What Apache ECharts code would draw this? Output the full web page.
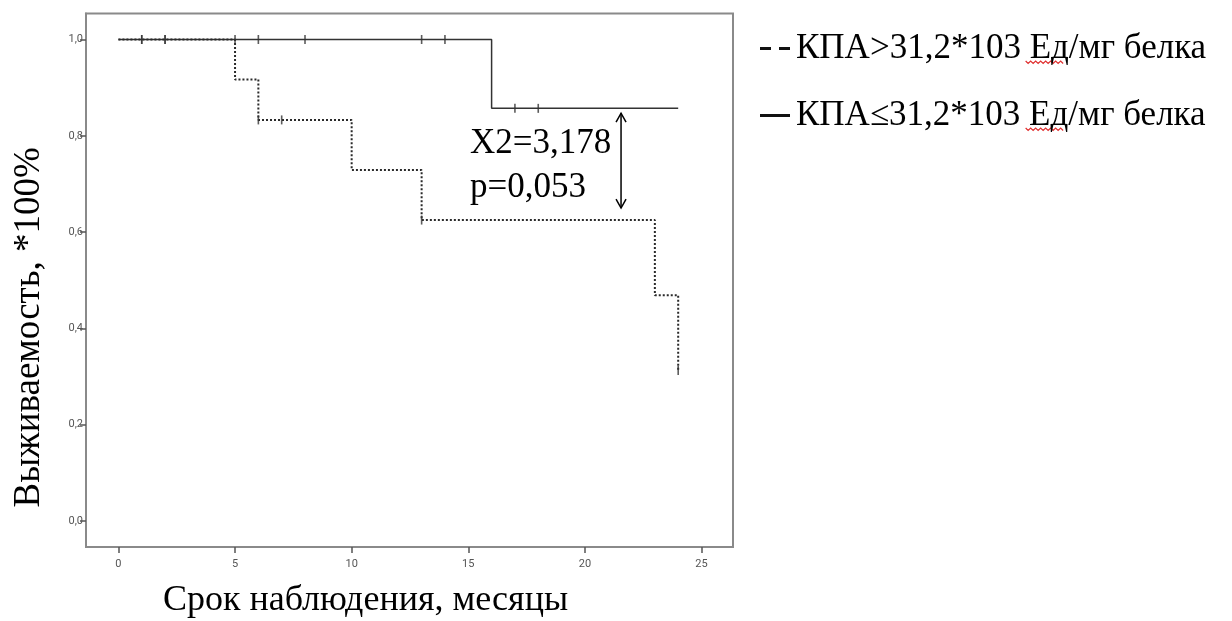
<!DOCTYPE html>
<html>
<head>
<meta charset="utf-8">
<script src="https://cdn.jsdelivr.net/npm/echarts@6/dist/echarts.min.js"></script>
<style>html,body{margin:0;padding:0;background:#fff}#c{width:1232px;height:621px}</style>
</head>
<body>
<div id="c"></div>
<script>
// Series names
var nameHigh = 'КПА>31,2*103 Ед/мг белка';
var nameLow = 'КПА≤31,2*103 Ед/мг белка';
// Kaplan-Meier steps: [month, survival]
var highTimes = [0, 5, 6, 10, 13, 23, 24];
var highSurv = [1.0, 0.917, 0.833, 0.729, 0.625, 0.469, 0.3125];
var lowTimes = [0, 16, 24];
var lowSurv = [1.0, 0.857, 0.857];
// Censored observations
var highCensorTimes = [1, 2, 6, 7, 13, 24];
var highCensorSurv = [1.0, 1.0, 0.833, 0.833, 0.625, 0.3125];
var lowCensorTimes = [1, 2, 5, 6, 8, 13, 14, 17, 18];
var lowCensorSurv = [1.0, 1.0, 1.0, 1.0, 1.0, 1.0, 1.0, 0.857, 0.857];
// Ticks
var xTicks = [0, 5, 10, 15, 20, 25];
var yTicks = [0, 0.2, 0.4, 0.6, 0.8, 1.0];
// Annotation
var statLines = ['X2=3,178', 'p=0,053'];
var arrowX = 21.55, arrowTop = 0.847, arrowBottom = 0.650;

function zip(a, b) { return a.map(function (v, i) { return [v, b[i]]; }); }

var chart = echarts.init(document.getElementById('c'), null, {renderer: 'canvas'});
var serif = '"Liberation Serif", "DejaVu Serif", serif';
var frameColor = '#8a8a8a';
var legendFont = 35, legendLeft = 755, legendIconW = 32, legendTop = 26;
var option = {
  animation: false,
  backgroundColor: '#fff',
  grid: {left: 86, top: 13.5, right: 499, bottom: 74, show: true, borderColor: frameColor, borderWidth: 2,
    outerBoundsMode: 'none', containLabel: false},
  xAxis: {
    type: 'value', min: -1.39, max: 26.35,
    splitLine: {show: false},
    axisLine: {show: true, onZero: false, lineStyle: {color: frameColor, width: 2}},
    axisTick: {show: true, length: 6, customValues: xTicks, lineStyle: {color: '#555', width: 1.5}},
    axisLabel: {customValues: xTicks, color: '#555', fontSize: 11, fontFamily: 'Roboto, sans-serif', margin: 12},
    name: 'Срок наблюдения, месяцы', nameLocation: 'middle', nameGap: 36,
    nameTextStyle: {fontFamily: serif, fontSize: 36, color: '#000', padding: [0, 88, 0, 0]}
  },
  yAxis: {
    type: 'value', min: -0.054, max: 1.054,
    splitLine: {show: false},
    axisLine: {show: true, onZero: false, lineStyle: {color: frameColor, width: 2}},
    axisTick: {show: true, length: 6, customValues: yTicks, lineStyle: {color: '#555', width: 1.5}},
    axisLabel: {customValues: yTicks, color: '#555', fontSize: 11, fontFamily: 'Roboto, sans-serif', margin: 3,
      formatter: function (v) { return v.toFixed(1).replace('.', ','); }},
    name: 'Выживаемость, *100%', nameLocation: 'middle', nameGap: 38,
    nameTextStyle: {fontFamily: serif, fontSize: 37, color: '#000', padding: [0, 94, 0, 0]}
  },
  legend: {
    orient: 'vertical', left: legendLeft, top: legendTop, itemGap: 32, itemWidth: legendIconW, itemHeight: 3,
    textStyle: {fontFamily: serif, fontSize: legendFont, color: '#000', lineHeight: 35},
    data: [
      {name: nameHigh, icon: 'path://M0,0h11v3h-11z M19,0h11v3h-11z', itemStyle: {color: '#111'}},
      {name: nameLow, icon: 'path://M0,0h30v3h-30z', itemStyle: {color: '#111'}}
    ]
  },
  series: [
    {name: nameHigh, type: 'line', step: 'end', symbol: 'none', data: zip(highTimes, highSurv),
      lineStyle: {color: '#2a2a2a', width: 2, type: [2, 2]}, z: 3},
    {name: nameLow, type: 'line', step: 'end', symbol: 'none', data: zip(lowTimes, lowSurv),
      lineStyle: {color: '#333', width: 1.5, type: 'solid'}, z: 2},
    {name: 'cens1', type: 'scatter', symbol: 'rect', symbolSize: [1.6, 9], data: zip(highCensorTimes, highCensorSurv),
      itemStyle: {color: '#333'}, z: 4},
    {name: 'cens2', type: 'scatter', symbol: 'rect', symbolSize: [1.6, 9], data: zip(lowCensorTimes, lowCensorSurv),
      itemStyle: {color: '#333'}, z: 4}
  ]
};
chart.setOption(option);

function px(x, y) { return chart.convertToPixel({gridIndex: 0}, [x, y]); }
var t1 = px(15.07, 0.784), t2 = px(15.07, 0.693);
var aT = px(arrowX, arrowTop), aB = px(arrowX, arrowBottom);

// spell-check style wavy underline under "Ед" in legend texts
var cv = document.createElement('canvas').getContext('2d');
cv.font = legendFont + 'px ' + serif;
var textX = legendLeft + legendIconW + 5;
var wx0 = textX + cv.measureText('КПА>31,2*103 ').width;
var wE = cv.measureText('Ед').width;
function wave(x0, w, y) {
  var pts = [], i = 0;
  for (var x = x0; x <= x0 + w; x += 2.5, i++) pts.push([x, y + (i % 2 ? 2.5 : 0)]);
  return {type: 'polyline', shape: {points: pts}, style: {stroke: '#e03030', lineWidth: 1.2, fill: null}, silent: true};
}

chart.setOption({
  graphic: [
    {type: 'text', x: t1[0], y: t1[1], style: {text: statLines[0], font: '35px ' + serif, fill: '#000', verticalAlign: 'middle'}},
    {type: 'text', x: t2[0], y: t2[1], style: {text: statLines[1], font: '35px ' + serif, fill: '#000', verticalAlign: 'middle'}},
    {type: 'line', shape: {x1: aT[0], y1: aT[1], x2: aB[0], y2: aB[1]}, style: {stroke: '#000', lineWidth: 1.5}},
    {type: 'polyline', shape: {points: [[aT[0] - 5, aT[1] + 9], [aT[0], aT[1]], [aT[0] + 5, aT[1] + 9]]}, style: {stroke: '#000', lineWidth: 1.5, fill: null}},
    {type: 'polyline', shape: {points: [[aB[0] - 5, aB[1] - 9], [aB[0], aB[1]], [aB[0] + 5, aB[1] - 9]]}, style: {stroke: '#000', lineWidth: 1.5, fill: null}},
    wave(wx0, wE, 61),
    wave(wx0, wE, 128)
  ]
});
</script>
</body>
</html>
